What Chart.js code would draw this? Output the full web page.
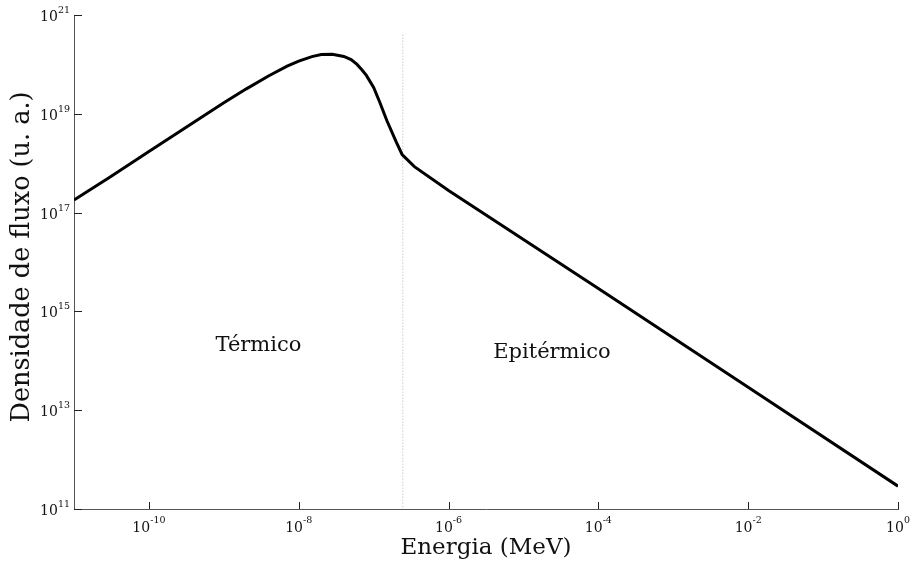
<!DOCTYPE html>
<html>
<head>
<meta charset="utf-8">
<script src="https://cdn.jsdelivr.net/npm/chart.js@4/dist/chart.umd.min.js"></script>
<style>
html,body{margin:0;padding:0;background:#fff;}
#wrap{width:910px;height:565px;position:relative;}
</style>
</head>
<body>
<div id="wrap"><canvas id="c" width="910" height="565"></canvas></div>
<script>
// Data
const energy = [1e-11, 3e-11, 1e-10, 3e-10, 1e-9, 2e-9, 4e-9, 7e-9, 1e-8, 1.5e-8, 2e-8, 2.8e-8, 4e-8, 5e-8, 6e-8, 7e-8, 8e-8, 1e-7, 1.2e-7, 1.5e-7, 2e-7, 2.4e-7, 3.5e-7, 1e-6, 1e-4, 1e-2, 1];
const flux   = [1.8e17, 5.2e17, 1.73e18, 5.1e18, 1.68e19, 3.2e19, 5.9e19, 9.2e19, 1.17e20, 1.44e20, 1.58e20, 1.61e20, 1.45e20, 1.25e20, 1e20, 7.7e19, 6e19, 3.4e19, 1.75e19, 7.3e18, 2.7e18, 1.5e18, 8.5e17, 2.8e17, 2.9e15, 2.9e13, 2.9e11];
const boundaryEnergy = [2.45e-7, 2.45e-7];
const boundaryFlux = [4e20, 1e11];
const xTickValues = [1e-10, 1e-8, 1e-6, 1e-4, 1e-2, 1];
const yTickValues = [1e11, 1e13, 1e15, 1e17, 1e19, 1e21];
const regionNames = ['Térmico', 'Epitérmico'];
const regionEnergy = [2.9e-9, 2.4e-5];
const regionFlux = [2e14, 1.45e14];
const xTitle = 'Energia (MeV)';
const yTitle = 'Densidade de fluxo (u. a.)';

const FONT = "'DejaVu Serif', serif";
const BASE_FONT = "14px " + FONT;
const EXP_FONT = "9.5px " + FONT;

function expOf(v){ return String(Math.round(Math.log10(v))); }

const decorations = {
  id: 'decorations',
  afterDraw(chart){
    const {ctx, chartArea, scales} = chart;
    ctx.save();
    // inward tick marks
    ctx.strokeStyle = '#222';
    ctx.lineWidth = 1;
    scales.x.ticks.forEach(t => {
      const px = Math.round(scales.x.getPixelForValue(t.value)) + 0.5;
      ctx.beginPath();
      ctx.moveTo(px, chartArea.bottom);
      ctx.lineTo(px, chartArea.bottom - 7);
      ctx.stroke();
    });
    scales.y.ticks.forEach(t => {
      const py = Math.round(scales.y.getPixelForValue(t.value)) + 0.5;
      ctx.beginPath();
      ctx.moveTo(chartArea.left, py);
      ctx.lineTo(chartArea.left + 8, py);
      ctx.stroke();
    });
    // tick labels 10^n
    ctx.fillStyle = '#111';
    ctx.textBaseline = 'alphabetic';
    ctx.textAlign = 'left';
    scales.x.ticks.forEach(t => {
      const px = scales.x.getPixelForValue(t.value);
      const e = expOf(t.value);
      ctx.font = BASE_FONT; const wb = ctx.measureText('10').width;
      ctx.font = EXP_FONT; const we = ctx.measureText(e).width;
      const x0 = px - (wb + we) / 2;
      ctx.font = BASE_FONT; ctx.fillText('10', x0, chartArea.bottom + 23);
      ctx.font = EXP_FONT; ctx.fillText(e, x0 + wb, chartArea.bottom + 14);
    });
    scales.y.ticks.forEach(t => {
      const py = scales.y.getPixelForValue(t.value);
      const e = expOf(t.value);
      ctx.font = BASE_FONT; const wb = ctx.measureText('10').width;
      ctx.font = EXP_FONT; const we = ctx.measureText(e).width;
      const x0 = chartArea.left - 4 - we - wb;
      ctx.font = BASE_FONT; ctx.fillText('10', x0, py + 6);
      ctx.font = EXP_FONT; ctx.fillText(e, x0 + wb, py - 2);
    });
    // region labels
    ctx.font = "21px " + FONT;
    ctx.textAlign = 'center';
    ctx.textBaseline = 'middle';
    regionNames.forEach((name, i) => {
      ctx.fillText(name, scales.x.getPixelForValue(regionEnergy[i]), scales.y.getPixelForValue(regionFlux[i]));
    });
    // y axis title
    ctx.font = "25.5px " + FONT;
    ctx.translate(22, 257);
    ctx.rotate(-Math.PI / 2);
    ctx.fillText(yTitle, 0, 0);
    ctx.restore();
  }
};

new Chart(document.getElementById('c'), {
  type: 'line',
  data: {
    datasets: [
      {
        data: energy.map((e, i) => ({x: e, y: flux[i]})),
        borderColor: '#000',
        borderWidth: 3,
        pointRadius: 0,
        tension: 0,
        fill: false,
        order: 1
      },
      {
        data: boundaryEnergy.map((e, i) => ({x: e, y: boundaryFlux[i]})),
        borderColor: '#b0b0b0',
        borderWidth: 1,
        borderDash: [1, 2],
        pointRadius: 0,
        fill: false,
        order: 2
      }
    ]
  },
  options: {
    responsive: false,
    animation: false,
    devicePixelRatio: 1,
    layout: {padding: {top: 15, right: 12, left: 0, bottom: 0}},
    plugins: {legend: {display: false}, tooltip: {enabled: false}},
    scales: {
      x: {
        type: 'logarithmic',
        min: 1e-11,
        max: 1,
        afterBuildTicks: s => { s.ticks = xTickValues.map(v => ({value: v})); },
        afterFit: s => { s.height = 56; },
        grid: {display: false, drawTicks: false},
        border: {display: true, color: '#555', width: 1},
        ticks: {display: false},
        title: {display: true, text: xTitle, color: '#111', font: {family: FONT, size: 23}, padding: {top: 0, bottom: 3}}
      },
      y: {
        type: 'logarithmic',
        min: 1e11,
        max: 1e21,
        afterBuildTicks: s => { s.ticks = yTickValues.map(v => ({value: v})); },
        afterFit: s => { s.width = 74; },
        grid: {display: false, drawTicks: false},
        border: {display: true, color: '#555', width: 1},
        ticks: {display: false},
        title: {display: false}
      }
    }
  },
  plugins: [decorations]
});
</script>
</body>
</html>
